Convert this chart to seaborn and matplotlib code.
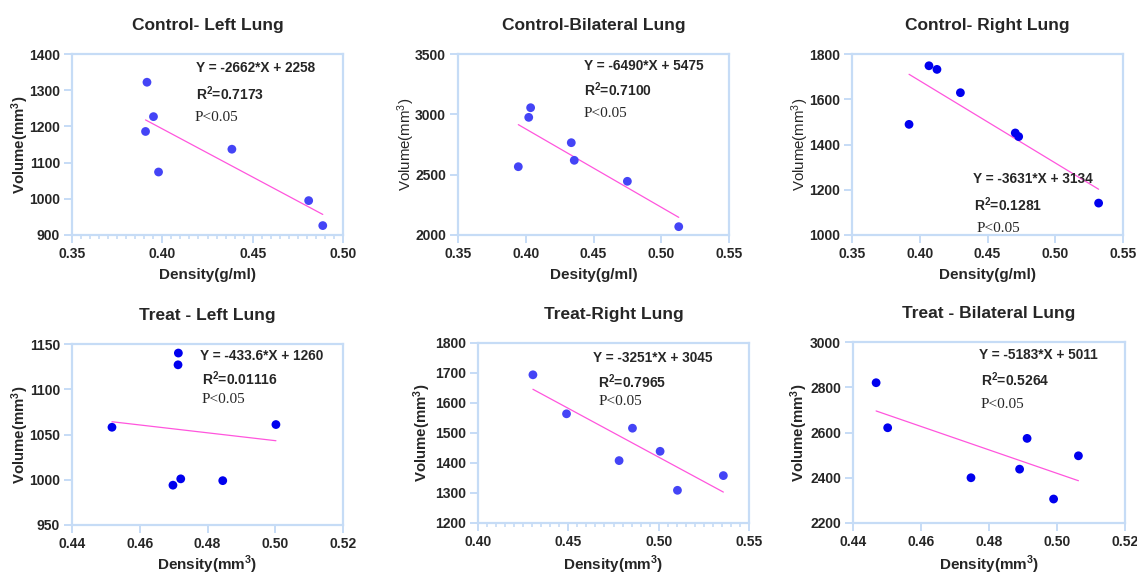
import matplotlib
matplotlib.use("Agg")
import matplotlib.pyplot as plt
from matplotlib.ticker import MultipleLocator
import numpy as np
import pandas as pd
import seaborn as sns

# values (density, volume) for each panel
titles = ["Control- Left Lung", "Control-Bilateral Lung", "Control- Right Lung",
          "Treat - Left Lung", "Treat-Right Lung", "Treat - Bilateral Lung"]

ctrl_left_x = [0.3915, 0.3951, 0.3907, 0.3979, 0.4385, 0.4810, 0.4888]
ctrl_left_y = [1322, 1227, 1186, 1074, 1137, 995, 926]

ctrl_bil_x = [0.3945, 0.4022, 0.4036, 0.4336, 0.4358, 0.4750, 0.5129]
ctrl_bil_y = [2566, 2975, 3055, 2765, 2619, 2445, 2069]

ctrl_right_x = [0.3921, 0.4068, 0.4127, 0.4300, 0.4705, 0.4730, 0.5320]
ctrl_right_y = [1489, 1748, 1732, 1629, 1451, 1435, 1141]

treat_left_x = [0.4518, 0.4714, 0.4713, 0.4698, 0.4721, 0.4845, 0.5002]
treat_left_y = [1058, 1140, 1127, 994, 1001, 999, 1061]

treat_right_x = [0.4304, 0.4490, 0.4781, 0.4855, 0.5008, 0.5104, 0.5358]
treat_right_y = [1694, 1564, 1408, 1516, 1439, 1309, 1358]

treat_bil_x = [0.4468, 0.4502, 0.4747, 0.4890, 0.4912, 0.4990, 0.5063]
treat_bil_y = [2820, 2621, 2400, 2438, 2574, 2306, 2497]

# fitted lines as printed on the chart
slopes = [-2662, -6490, -3631, -433.6, -3251, -5183]
intercepts = [2258, 5475, 3134, 1260, 3045, 5011]
eq_texts = ["Y = -2662*X + 2258", "Y = -6490*X + 5475", "Y = -3631*X + 3134",
            "Y = -433.6*X + 1260", "Y = -3251*X + 3045", "Y = -5183*X + 5011"]
r2_vals = ["0.7173", "0.7100", "0.1281", "0.01116", "0.7965", "0.5264"]

xlabels = ["Density(g/ml)", "Desity(g/ml)", "Density(g/ml)",
           "Density(mm$^3$)", "Density(mm$^3$)", "Density(mm$^3$)"]

xs = [ctrl_left_x, ctrl_bil_x, ctrl_right_x, treat_left_x, treat_right_x, treat_bil_x]
ys = [ctrl_left_y, ctrl_bil_y, ctrl_right_y, treat_left_y, treat_right_y, treat_bil_y]

# layout / style per panel
W, H = 1137, 576
boxes = [(72, 343, 54, 235), (458, 729, 54, 235), (852, 1123, 54, 235),
         (72, 343, 344, 525), (478, 749, 343, 523), (853, 1125, 342, 523)]
xlims = [(0.35, 0.50), (0.35, 0.55), (0.35, 0.55), (0.44, 0.52), (0.40, 0.55), (0.44, 0.52)]
xsteps = [0.05, 0.05, 0.05, 0.02, 0.05, 0.02]
ylims = [(900, 1400), (2000, 3500), (1000, 1800), (950, 1150), (1200, 1800), (2200, 3000)]
ysteps = [100, 500, 200, 50, 100, 200]
minor_x = [True, False, False, False, True, False]
ylabel_bold = [True, False, False, True, True, True]
dot_colors = ["#4444f6", "#4444f6", "#0000ee", "#0000ee", "#4444f6", "#0000ee"]
# text anchor positions (axes fraction): eq, r2, p
eq_pos = [(0.457, 0.921), (0.464, 0.934), (0.446, 0.309), (0.472, 0.936), (0.426, 0.917), (0.464, 0.930)]
r2_pos = [(0.457, 0.779), (0.464, 0.801), (0.452, 0.169), (0.478, 0.810), (0.441, 0.787), (0.470, 0.791)]
p_pos = [(0.453, 0.650), (0.464, 0.672), (0.459, 0.037), (0.478, 0.694), (0.444, 0.676), (0.470, 0.652)]
ylab_x = [-0.150, -0.150, -0.150, -0.150, -0.165, -0.158]
xlab_y = [-0.182, -0.182, -0.182, -0.160, -0.172, -0.172]

sns.set_style("white")
plt.rcParams['font.family'] = ['Liberation Sans', 'DejaVu Sans']
plt.rcParams['mathtext.fontset'] = 'custom'
plt.rcParams['mathtext.rm'] = 'Liberation Sans:bold'
plt.rcParams['mathtext.bf'] = 'Liberation Sans:bold'

spine_col = "#c6dcf6"
line_col = "#ff55dd"

fig = plt.figure(figsize=(W / 100, H / 100), dpi=100)

for i in range(6):
    l, r, t, b = boxes[i]
    ax = fig.add_axes([l / W, 1 - b / H, (r - l) / W, (b - t) / H])
    df = pd.DataFrame({"x": xs[i], "y": ys[i]})

    sns.scatterplot(data=df, x="x", y="y", ax=ax, color=dot_colors[i],
                    s=40, edgecolor="none", zorder=3)

    fit_x = np.array([min(xs[i]), max(xs[i])])
    fit = pd.DataFrame({"x": fit_x, "y": slopes[i] * fit_x + intercepts[i]})
    sns.lineplot(data=fit, x="x", y="y", ax=ax, color=line_col, lw=0.9, zorder=2)

    ax.set_xlim(*xlims[i])
    ax.set_ylim(*ylims[i])
    ax.xaxis.set_major_locator(MultipleLocator(xsteps[i]))
    ax.yaxis.set_major_locator(MultipleLocator(ysteps[i]))
    ax.xaxis.set_major_formatter(matplotlib.ticker.FormatStrFormatter('%.2f'))
    if minor_x[i]:
        ax.xaxis.set_minor_locator(MultipleLocator(0.005))

    for sp in ax.spines.values():
        sp.set_color(spine_col)
        sp.set_linewidth(1.6)
    ax.tick_params(axis="both", which="major", length=5.5, width=1.4,
                   color=spine_col, labelsize=10, pad=3, direction="out",
                   bottom=True, left=True)
    ax.tick_params(axis="x", which="minor", length=3, width=1.2,
                   color=spine_col, direction="out", bottom=True)
    for lab in ax.get_xticklabels() + ax.get_yticklabels():
        lab.set_fontweight("bold")

    ax.set_title(titles[i], fontsize=12.5, fontweight="bold", pad=17)
    ax.set_xlabel(xlabels[i], fontsize=11, fontweight="bold")
    ylab_w = "bold" if ylabel_bold[i] else "normal"
    sup = r"$\mathbf{^3}$" if ylabel_bold[i] else r"$\mathregular{^3}$"
    ax.set_ylabel("Volume(mm" + sup + ")", fontsize=10.8, fontweight=ylab_w)
    ax.yaxis.set_label_coords(ylab_x[i], 0.5)
    ax.xaxis.set_label_coords(0.5, xlab_y[i])

    ax.text(*eq_pos[i], eq_texts[i], transform=ax.transAxes, fontsize=9.8,
            fontweight="bold", va="center", ha="left")
    ax.text(*r2_pos[i], r"R$\mathbf{^2}$=" + r2_vals[i], transform=ax.transAxes,
            fontsize=10, fontweight="bold", va="center", ha="left")
    ax.text(*p_pos[i], "P<0.05", transform=ax.transAxes, fontsize=11,
            family=["Liberation Serif", "DejaVu Serif"], va="center", ha="left")

fig.savefig("out.png", dpi=100)
